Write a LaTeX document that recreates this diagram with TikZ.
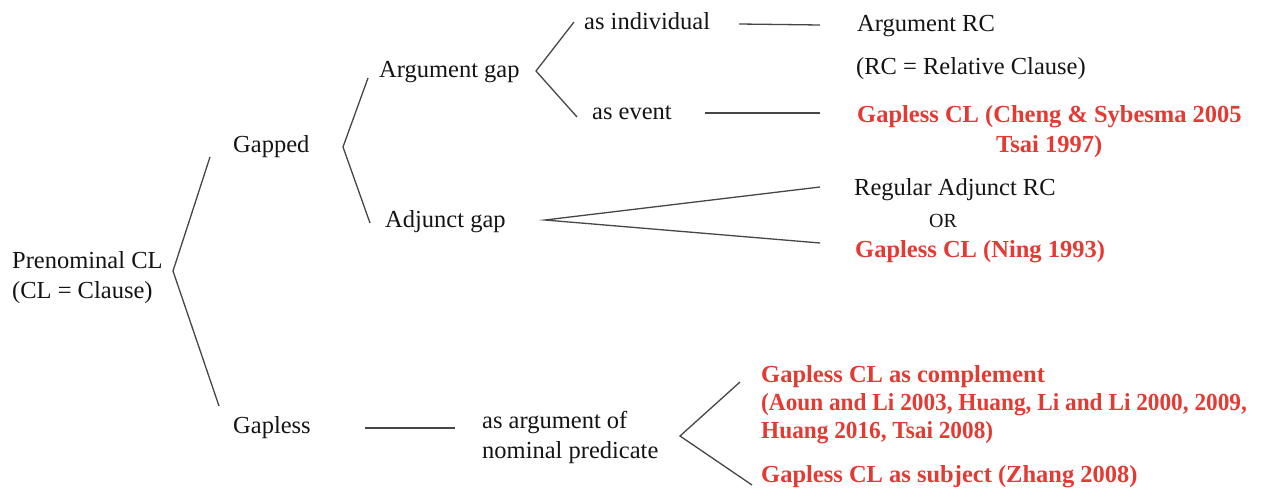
\documentclass[tikz,border=0pt]{standalone}
\usepackage{fontspec}
\usepackage{graphicx}
\setmainfont{Liberation Serif}
\definecolor{refred}{RGB}{228,58,52}
\definecolor{ink}{RGB}{20,20,20}
\definecolor{branch}{RGB}{70,70,70}
\newcommand{\narrow}[1]{\scalebox{0.95}[1]{#1}}
\begin{document}
\begin{tikzpicture}[x=1pt,y=-1pt,
  lbl/.style={anchor=base west,inner sep=0pt,text=ink,font=\fontsize{24.5}{30}\selectfont},
  cite/.style={lbl,text=refred,font=\fontsize{24.5}{30}\selectfont\bfseries},
  small/.style={lbl,font=\fontsize{20}{24}\selectfont},
  edge/.style={draw=branch,line width=1.3pt}]
\useasboundingbox (0,0) rectangle (1265,497);

% labels of the tree
\node[lbl] (pre1) at (12,268) {Prenominal CL};
\node[lbl] (pre2) at (12,298) {(CL = Clause)};
\node[lbl] (gapped) at (233,153) {Gapped};
\node[lbl] (gapless) at (233,433) {Gapless};
\node[lbl] (arggap) at (379,78) {Argument gap};
\node[lbl] (adjgap) at (385,227) {Adjunct gap};
\node[lbl] (indiv) at (584,30) {as individual};
\node[lbl] (event) at (592,120) {as event};
\node[lbl] (argrc) at (857,32) {Argument RC};
\node[lbl] (rcnote) at (856,75) {(RC = Relative Clause)};
\node[cite] (cheng1) at (857,123) {Gapless CL (Cheng \& Sybesma 2005};
\node[cite] (cheng2) at (996,153) {Tsai 1997)};
\node[lbl] (regadj) at (854,195) {Regular Adjunct RC};
\node[small] (or) at (929,227) {OR};
\node[cite] (ning) at (855,257) {Gapless CL (Ning 1993)};
\node[lbl] (nom1) at (482,428) {as argument of};
\node[lbl] (nom2) at (482,458) {nominal predicate};
\node[cite] (comp1) at (761,382) {Gapless CL as complement};
\node[cite] (comp2) at (761,410) {\narrow{(Aoun and Li 2003, Huang, Li and Li 2000, 2009,}};
\node[cite] (comp3) at (761,438) {\narrow{Huang 2016, Tsai 2008)}};
\node[cite] (subj) at (761,482) {Gapless CL as subject (Zhang 2008)};

% branch points and line ends
\coordinate (vRoot) at (173,271);
\coordinate (rootUp) at (210,157);
\coordinate (rootDn) at (219,406);
\coordinate (vGapped) at (343,147);
\coordinate (gapUp) at (368,78);
\coordinate (gapDn) at (370,223);
\coordinate (vArg) at (536,71);
\coordinate (argUp) at (574,22);
\coordinate (argDn) at (577,117);
\coordinate (indivA) at (739,24);
\coordinate (indivB) at (820,25);
\coordinate (eventA) at (705,113);
\coordinate (eventB) at (820,113);
\coordinate (vAdj) at (545,220);
\coordinate (adjUp) at (820,187);
\coordinate (adjDn) at (820,243);
\coordinate (glA) at (365,428);
\coordinate (glB) at (455,428);
\coordinate (vNom) at (680,436);
\coordinate (nomUp) at (740,382);
\coordinate (nomDn) at (752,485);

% connectors
\draw[edge] (rootUp) -- (vRoot) -- (rootDn);
\draw[edge] (gapUp) -- (vGapped) -- (gapDn);
\draw[edge] (argUp) -- (vArg) -- (argDn);
\draw[edge] (indivA) -- (indivB);
\draw[edge] (eventA) -- (eventB);
\draw[edge] (adjUp) -- (vAdj) -- (adjDn);
\draw[edge] (glA) -- (glB);
\draw[edge] (nomUp) -- (vNom) -- (nomDn);
\end{tikzpicture}
\end{document}
